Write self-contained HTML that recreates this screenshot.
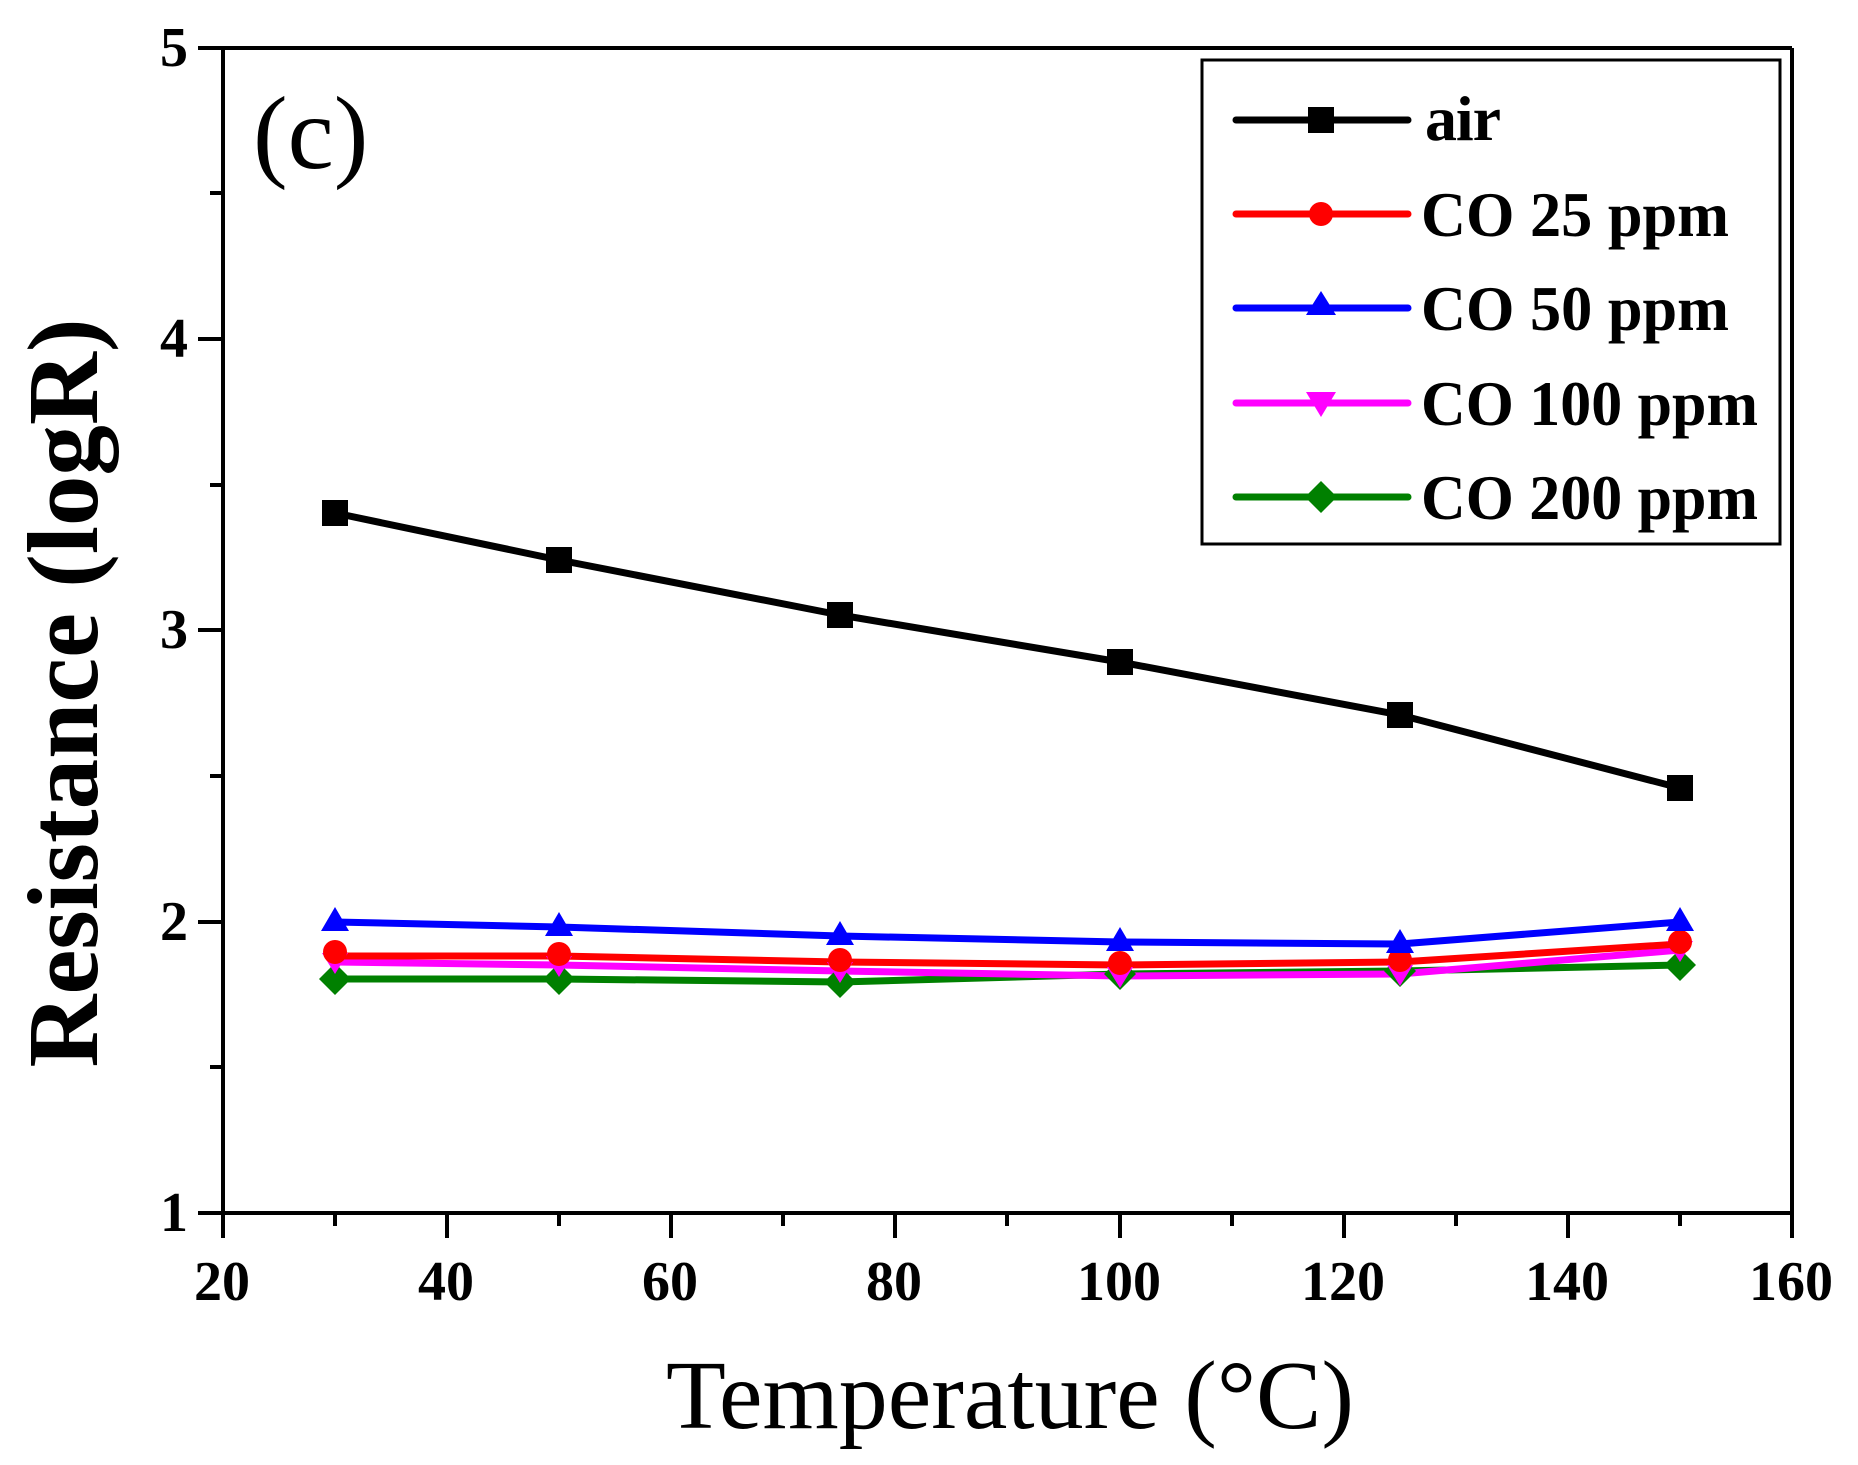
<!DOCTYPE html>
<html><head><meta charset="utf-8"><style>body{margin:0;background:#fff}svg{display:block}</style></head>
<body>
<svg width="1858" height="1465" viewBox="0 0 1858 1465" xmlns="http://www.w3.org/2000/svg" font-family="Liberation Serif, serif">
<g stroke="#000" stroke-width="4" fill="none">
<line x1="198" y1="48" x2="1792" y2="48"/>
<line x1="223" y1="48" x2="223" y2="1213"/>
<line x1="198" y1="1213" x2="1792" y2="1213"/>
<line x1="1792" y1="48" x2="1792" y2="1213"/>
<path d="M223 1213v25M447 1213v25M671 1213v25M895 1213v25M1120 1213v25M1344 1213v25M1568 1213v25M1792 1213v25M335 1213v13M559 1213v13M783 1213v13M1007 1213v13M1232 1213v13M1456 1213v13M1680 1213v13"/>
<path d="M198 48h25M198 339h25M198 630h25M198 922h25M198 1213h25M210 193h13M210 485h13M210 776h13M210 1067h13"/>
</g>
<g font-size="56" font-weight="bold" text-anchor="middle">
<text x="222" y="1300">20</text><text x="446" y="1300">40</text><text x="670" y="1300">60</text><text x="894" y="1300">80</text><text x="1119" y="1300">100</text><text x="1343" y="1300">120</text><text x="1567" y="1300">140</text><text x="1791" y="1300">160</text>
</g>
<g font-size="56" font-weight="bold" text-anchor="end">
<text x="188" y="66">5</text><text x="188" y="357">4</text><text x="188" y="648">3</text><text x="188" y="940">2</text><text x="188" y="1231">1</text>
</g>
<text x="1010" y="1428" font-size="98" text-anchor="middle">Temperature (°C)</text>
<text transform="translate(97,693) rotate(-90)" font-size="101" font-weight="bold" text-anchor="middle">Resistance (logR)</text>
<text x="253" y="168" font-size="104">(c)</text>
<g fill="none" stroke-width="7" stroke-linejoin="round">
<polyline stroke="#008000" points="335,979 559,979 840,982 1120,974 1400,971 1680,965"/>
<polyline stroke="#ff00ff" points="335,962 559,965 840,971 1120,976 1400,974 1680,950"/>
<polyline stroke="#ff0000" points="335,956 559,956 840,962 1120,965 1400,962 1680,944"/>
<polyline stroke="#0000ff" points="335,922 559,927 840,936 1120,942 1400,944 1680,922"/>
<polyline stroke="#000" points="335,513 559,560 840,615 1120,662 1400,715 1680,788"/>
</g>
<g fill="#008000">
<path d="M335 963l16 16-16 16-16-16zM559 963l16 16-16 16-16-16zM840 966l16 16-16 16-16-16zM1120 958l16 16-16 16-16-16zM1400 955l16 16-16 16-16-16zM1680 949l16 16-16 16-16-16z"/>
</g>
<g fill="#ff00ff">
<path d="M322 953h26l-13 21zM546 956h26l-13 21zM827 962h26l-13 21zM1107 967h26l-13 21zM1387 965h26l-13 21zM1667 941h26l-13 21z"/>
</g>
<g fill="#ff0000">
<circle cx="335" cy="952" r="12"/><circle cx="559" cy="954" r="12"/><circle cx="840" cy="960" r="12"/><circle cx="1120" cy="963" r="12"/><circle cx="1400" cy="960" r="12"/><circle cx="1680" cy="942" r="12"/>
</g>
<g fill="#0000ff">
<path d="M335 907l14 24h-28zM559 912l14 24h-28zM840 921l14 24h-28zM1120 927l14 24h-28zM1400 929l14 24h-28zM1680 907l14 24h-28z"/>
</g>
<g fill="#000">
<rect x="322" y="500" width="26" height="26"/><rect x="546" y="547" width="26" height="26"/><rect x="827" y="602" width="26" height="26"/><rect x="1107" y="649" width="26" height="26"/><rect x="1387" y="702" width="26" height="26"/><rect x="1667" y="775" width="26" height="26"/>
</g>
<rect x="1202" y="60" width="578" height="484" fill="none" stroke="#000" stroke-width="3"/>
<g stroke-width="7" fill="none" stroke-linecap="round">
<line x1="1236" y1="120" x2="1408" y2="120" stroke="#000"/>
<line x1="1236" y1="214" x2="1408" y2="214" stroke="#ff0000"/>
<line x1="1236" y1="308" x2="1408" y2="308" stroke="#0000ff"/>
<line x1="1236" y1="403" x2="1408" y2="403" stroke="#ff00ff"/>
<line x1="1236" y1="497" x2="1408" y2="497" stroke="#008000"/>
</g>
<rect x="1308" y="107" width="26" height="26" fill="#000"/>
<circle cx="1321" cy="214" r="12" fill="#ff0000"/>
<path d="M1321 291l15 24h-30z" fill="#0000ff"/>
<path d="M1306 392h30l-15 25z" fill="#ff00ff"/>
<path d="M1321 481l16 16-16 16-16-16z" fill="#008000"/>
<g font-size="64" font-weight="bold">
<text x="1425" y="140" textLength="76">air</text>
<text x="1421" y="236" textLength="308" lengthAdjust="spacingAndGlyphs">CO 25 ppm</text>
<text x="1421" y="330" textLength="308" lengthAdjust="spacingAndGlyphs">CO 50 ppm</text>
<text x="1421" y="425" textLength="337" lengthAdjust="spacingAndGlyphs">CO 100 ppm</text>
<text x="1421" y="519" textLength="337" lengthAdjust="spacingAndGlyphs">CO 200 ppm</text>
</g>
</svg>
</body></html>
